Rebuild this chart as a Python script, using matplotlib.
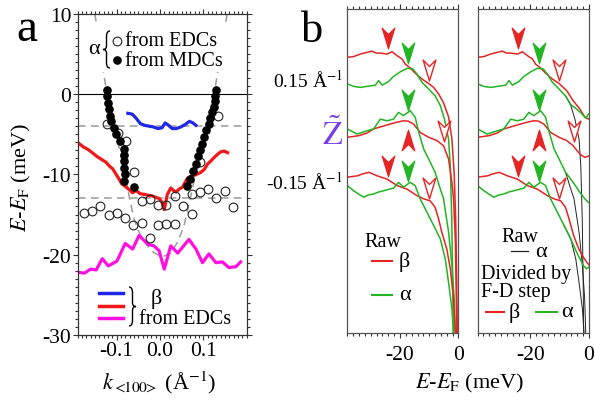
import matplotlib
matplotlib.use('Agg')
import matplotlib.pyplot as plt
from matplotlib.path import Path
from matplotlib.patches import PathPatch, Rectangle
from matplotlib.lines import Line2D
from matplotlib.ticker import MultipleLocator, FixedLocator, FuncFormatter

plt.rcParams['font.family'] = ['Liberation Serif', 'DejaVu Serif']
plt.rcParams['mathtext.fontset'] = 'stix'
plt.rcParams['axes.unicode_minus'] = False

# ======================= DATA : panel a =======================
# alpha band from MDCs (filled circles)
mdc_k_left = [-0.123, -0.121, -0.119, -0.117, -0.115, -0.113, -0.107, -0.101, -0.092,
              -0.083, -0.082, -0.082, -0.082, -0.080, -0.082, -0.059]
mdc_E_left = [0.5, -0.3, -1.1, -1.9, -2.7, -3.4, -4.2, -5.0, -5.9,
              -6.8, -7.6, -8.4, -9.2, -10.0, -10.8, -11.6]
mdc_k_right = [0.130, 0.128, 0.126, 0.124, 0.121, 0.116, 0.112, 0.107, 0.101, 0.096,
               0.092, 0.088, 0.082, 0.076, 0.070, 0.063]
mdc_E_right = [0.5, -0.2, -0.9, -1.6, -2.3, -3.0, -3.7, -4.5, -5.3, -6.2,
               -7.0, -7.7, -8.7, -9.6, -10.6, -11.5]

# alpha band from EDCs (open circles)
edc_k = [-0.121, -0.097, -0.079, -0.060, 0.133, 0.093,
         -0.176, -0.157, -0.138, -0.118, -0.099, -0.080, -0.061, -0.042, -0.022,
         -0.041, -0.022, -0.004, 0.015, -0.004, 0.015, 0.034,
         0.035, 0.054, 0.073, 0.073, 0.092, 0.111, 0.130, 0.149, 0.168]
edc_E = [-3.7, -4.8, -5.9, -9.7, -2.7, -8.5,
         -14.8, -14.6, -14.0, -15.0, -14.8, -15.4, -16.3, -16.0, -17.9,
         -13.3, -13.1, -13.8, -13.8, -16.3, -16.2, -16.2,
         -12.7, -13.9, -14.9, -12.5, -12.2, -11.8, -12.9, -12.1, -14.1]

# beta bands from EDCs
blue_k = [-0.074, -0.064, -0.055, -0.045, -0.035, -0.025, -0.015, -0.005, 0.005,
          0.012, 0.020, 0.028, 0.038, 0.048, 0.058, 0.068, 0.076, 0.083]
blue_E = [-2.4, -2.5, -3.0, -3.7, -3.9, -4.0, -4.1, -4.3, -4.2,
          -3.6, -3.9, -4.3, -4.3, -4.1, -3.8, -3.4, -3.6, -3.9]

red_k = [-0.188, -0.176, -0.166, -0.156, -0.147, -0.136, -0.124, -0.116, -0.109, -0.101,
         -0.094, -0.088, -0.082, -0.071, -0.063, -0.055, -0.046, -0.036, -0.027, -0.017,
         -0.008, -0.002, 0.004, 0.010, 0.017, 0.025, 0.031, 0.037, 0.045, 0.052,
         0.063, 0.075, 0.085, 0.094, 0.102, 0.110, 0.118, 0.125, 0.133, 0.140, 0.148, 0.156]
red_E = [-6.1, -6.6, -6.9, -7.3, -7.7, -8.1, -8.5, -9.0, -9.3, -10.0,
         -10.6, -11.2, -11.4, -11.9, -12.3, -12.0, -12.4, -12.5, -12.6, -12.7,
         -12.9, -13.0, -13.4, -14.4, -12.5, -11.7, -12.0, -12.2, -11.8, -11.6,
         -10.5, -10.2, -10.0, -9.75, -9.4, -8.7, -8.3, -7.9, -7.5, -7.2, -7.1, -7.3]

magenta_k = [-0.188, -0.174, -0.160, -0.147, -0.133, -0.119, -0.099, -0.080, -0.063, -0.048,
             -0.028, -0.014, -0.002, 0.010, 0.025, 0.041, 0.067, 0.083, 0.098, 0.113,
             0.129, 0.144, 0.159, 0.175, 0.186]
magenta_E = [-22.2, -22.3, -21.8, -21.9, -20.5, -21.4, -20.8, -18.6, -19.3, -17.6,
             -18.7, -18.9, -19.5, -21.8, -18.9, -19.8, -18.1, -19.3, -21.0, -19.9,
             -21.0, -20.9, -21.6, -21.5, -20.9]

# guide-to-the-eye (gray dashed)
guide_k = [-0.150, -0.128, -0.112, -0.095, -0.080, -0.070, -0.060, -0.045, -0.030, -0.015,
           0.005, 0.025, 0.040, 0.055, 0.068, 0.080, 0.095, 0.112, 0.128, 0.140, 0.155]
guide_E = [10.0, 2.0, -3.0, -6.5, -10.0, -13.0, -15.5, -17.6, -18.8, -19.7,
           -20.3, -19.8, -18.5, -16.5, -13.5, -10.5, -7.0, -3.0, 1.0, 5.0, 10.0]
guide_levels = [-4.0, -13.0]

xa_ticks = [-0.1, 0.0, 0.1]
ya_ticks = [-30, -20, -10, 0, 10]

# ======================= DATA : panel b =======================
# Raw EDCs (meV, arbitrary intensity incl. offset), k = +0.15, 0 (Z~), -0.15
raw_top_red_E = [-38.0, -35.9, -33.5, -31.3, -29.6, -28.1, -26.8, -24.4, -22.7, -21.0, -19.3, -18.2,
                 -16.5, -14.8, -12.5, -10.2, -8.5, -6.8, -5.1, -3.4, -2.25, -1.47, -0.96, -0.61, -0.44]
raw_top_red_I = [85.1, 85.3, 86.1, 86.6, 87.0, 86.4, 86.4, 86.1, 86.8, 85.6, 84.6, 83.0,
                 81.8, 80.2, 78.4, 77.0, 75.8, 73.8, 71.0, 66.7, 59.9, 49.1, 35.2, 16.7, 0.0]
raw_top_green_E = [-38.0, -35.8, -33.5, -31.3, -28.4, -27.3, -26.1, -23.9, -22.2, -19.9, -17.6, -15.6,
                   -14.2, -12.5, -10.2, -8.0, -6.2, -4.8, -3.4, -2.8, -2.3, -2.0, -1.8]
raw_top_green_I = [76.9, 76.1, 75.8, 76.1, 76.5, 77.9, 76.5, 77.6, 79.2, 80.6, 81.7, 81.5,
                   79.9, 77.4, 75.3, 73.2, 70.2, 66.0, 59.9, 51.6, 35.2, 16.7, 0.0]
raw_mid_red_E = [-38.0, -34.1, -31.3, -29.0, -26.7, -23.3, -20.9, -18.8, -17.2, -15.4, -13.1, -10.2,
                 -7.4, -5.1, -3.4, -2.25, -1.7, -1.1, -0.8, -0.6]
raw_mid_red_I = [60.4, 60.9, 61.7, 63.0, 63.6, 64.5, 65.1, 65.5, 65.4, 64.5, 61.9, 60.4,
                 59.4, 57.8, 53.7, 46.5, 41.4, 29.0, 13.6, 0.0]
raw_mid_green_E = [-38.0, -34.7, -31.3, -29.0, -26.7, -24.4, -22.2, -20.5, -18.8, -16.5, -14.8,
                   -13.7, -11.9, -10.2, -8.0, -6.2, -5.1, -3.4, -2.25, -1.47, -1.1]
raw_mid_green_I = [63.0, 61.4, 62.4, 63.0, 66.0, 65.5, 66.0, 68.1, 67.1, 68.6, 66.6,
                   62.4, 56.8, 53.7, 49.6, 44.4, 41.4, 31.2, 20.8, 10.5, 0.0]
raw_bot_red_E = [-38.0, -34.6, -32.8, -30.6, -27.8, -24.4, -21.0, -17.6, -14.2, -11.9, -9.7, -8.0,
                 -6.8, -5.7, -4.0, -2.8, -1.7, -1.1]
raw_bot_red_I = [48.1, 48.5, 49.1, 49.6, 48.5, 47.5, 45.5, 44.4, 42.4, 41.4, 40.8, 38.8,
                 35.2, 31.1, 25.9, 19.8, 10.5, 0.0]
raw_bot_green_E = [-38.0, -35.8, -34.2, -32.4, -30.8, -29.0, -27.4, -25.6, -24.0, -22.2, -20.5,
                   -18.8, -16.5, -14.8, -13.1, -10.8, -8.5, -6.2, -4.5, -3.4, -2.25, -1.7]
raw_bot_green_I = [45.5, 43.9, 42.9, 41.9, 42.6, 42.9, 43.5, 43.9, 44.3, 44.7, 46.5,
                   45.0, 46.5, 45.5, 41.4, 37.3, 33.2, 29.0, 22.8, 15.6, 7.4, 0.0]

# EDCs divided by the Fermi-Dirac step
div_top_red_E = [-38.0, -35.9, -33.5, -31.3, -29.6, -28.1, -26.8, -24.4, -22.7, -21.0, -19.3, -18.2,
                 -16.5, -14.8, -12.5, -10.2, -7.6, -5.4, -3.1, -1.4, 0.0]
div_top_red_I = [85.1, 85.3, 86.1, 86.6, 87.0, 86.4, 86.4, 86.1, 86.8, 85.6, 84.6, 83.0,
                 81.8, 80.2, 78.4, 77.0, 74.8, 71.7, 69.1, 66.6, 66.0]
div_top_green_E = [-38.0, -35.8, -33.5, -31.3, -28.4, -27.3, -26.1, -23.9, -22.2, -19.9, -17.6, -15.6,
                   -14.2, -12.5, -10.2, -8.0, -6.2, -4.2, -2.8, -1.9, -1.0, -0.2]
div_top_green_I = [76.9, 76.1, 75.8, 76.1, 76.5, 77.9, 76.5, 77.6, 79.2, 80.6, 81.7, 81.5,
                   79.9, 77.4, 75.3, 73.2, 70.5, 69.1, 68.0, 67.1, 66.3, 67.6]
div_mid_red_E = [-38.0, -34.1, -31.3, -29.0, -26.7, -23.3, -20.9, -18.8, -17.2, -15.4, -13.1, -10.2,
                 -7.6, -5.4, -3.1, -1.4, 0.0]
div_mid_red_I = [60.4, 60.9, 61.7, 63.0, 63.6, 64.5, 65.1, 65.5, 65.4, 64.5, 61.9, 60.4,
                 59.4, 57.8, 55.2, 54.2, 54.7]
div_mid_green_E = [-38.0, -34.7, -31.3, -29.0, -26.7, -24.4, -22.2, -20.5, -18.8, -16.5, -14.8,
                   -13.7, -11.9, -10.2, -8.0, -5.4, -3.1, -1.5, -0.2]
div_mid_green_I = [63.0, 61.4, 62.4, 63.0, 66.0, 65.5, 66.0, 68.1, 67.1, 68.6, 66.6,
                   62.4, 56.8, 53.7, 49.6, 46.5, 43.4, 41.5, 40.3]
div_bot_red_E = [-38.0, -34.6, -32.8, -30.6, -27.8, -24.4, -21.0, -17.6, -14.2, -11.9, -9.7, -8.0,
                 -6.8, -5.2, -3.5, -2.0, -0.8, 0.0]
div_bot_red_I = [48.1, 48.5, 49.1, 49.6, 48.5, 47.5, 45.5, 44.4, 42.4, 41.4, 40.8, 38.8,
                 35.2, 30.0, 26.0, 23.5, 21.9, 21.0]
div_bot_green_E = [-38.0, -35.8, -34.2, -32.4, -30.8, -29.0, -27.4, -25.6, -24.0, -22.2, -20.5,
                   -18.8, -16.5, -14.8, -13.1, -10.8, -8.5, -6.2, -4.2, -1.9, -0.8, 0.0]
div_bot_green_I = [45.5, 43.9, 42.9, 41.9, 42.6, 42.9, 43.5, 43.9, 44.3, 44.7, 46.5,
                   45.0, 46.5, 45.5, 41.4, 37.3, 33.2, 29.0, 24.9, 20.8, 19.8, 20.4]

# arrow markers (peak positions)
arrow_red_E = [-24.2, -17.1, -24.2]
arrow_red_I = [90.9, 59.7, 51.4]
arrow_red_up = [False, True, False]
arrow_green_E = [-17.1, -17.1, -17.1]
arrow_green_I = [86.3, 71.8, 50.0]
arrow_open_E = [-10.2, -5.1, -10.2]
arrow_open_I = [81.2, 62.5, 44.9]

xb_ticks = [-20, 0]

# ======================= FIGURE =======================
W, H = 595, 402
fig = plt.figure(figsize=(W / 100, H / 100), dpi=100)


def px(x, y):
    return x / W, 1 - y / H


SPINE = '#333333'
GRAY = '#9a9a9a'
BLUE = '#1e28e6'
RED_A = '#f01818'
MAG = '#ff10e0'
RED_B = '#e52424'
GREEN_B = '#22b422'

# ---------------- panel a ----------------
axa = fig.add_axes([77.5 / W, 1 - 336 / H, 169.2 / W, 321.3 / H])
axa.set_xlim(-0.19, 0.2)
axa.set_ylim(-30, 10)
axa.axhline(0, color='black', lw=0.8, zorder=1)
for lev in guide_levels:
    axa.axhline(lev, color=GRAY, lw=1.1, ls=(0, (5, 3.5)), zorder=1)
axa.plot(guide_k, guide_E, color=GRAY, lw=1.1, ls=(0, (5, 3.5)), zorder=1)
axa.plot(blue_k, blue_E, color=BLUE, lw=2.3, zorder=2, solid_joinstyle='round')
axa.plot(red_k, red_E, color=RED_A, lw=2.3, zorder=2, solid_joinstyle='round')
axa.plot(magenta_k, magenta_E, color=MAG, lw=2.3, zorder=2, solid_joinstyle='round')
axa.plot(edc_k, edc_E, 'o', ms=6.3, mfc='none', mec='#222222', mew=0.8, zorder=3)
axa.plot(mdc_k_left, mdc_E_left, 'o', ms=5.2, color='black', zorder=3)
axa.plot(mdc_k_right, mdc_E_right, 'o', ms=5.2, color='black', zorder=3)
# white box behind legend
axa.add_patch(Rectangle(px(86, 73), 142 / W, 50 / H, transform=fig.transFigure,
                        facecolor='white', edgecolor='none', zorder=2.5))

axa.xaxis.set_major_locator(FixedLocator(xa_ticks))
axa.xaxis.set_minor_locator(MultipleLocator(0.01))
axa.xaxis.set_major_formatter(FuncFormatter(lambda v, p: '%.1f' % v if abs(v) > 1e-9 else '0.0'))
axa.yaxis.set_major_locator(FixedLocator(ya_ticks))
axa.yaxis.set_minor_locator(MultipleLocator(1))
axa.yaxis.set_major_formatter(FuncFormatter(lambda v, p: '%d' % round(v)))
axa.tick_params(which='both', direction='out', top=True, right=True, width=0.8, color=SPINE)
axa.tick_params(which='major', length=3.5, labelsize=15.5, pad=1)
axa.tick_params(which='minor', length=2)
for s in axa.spines.values():
    s.set_color(SPINE)
    s.set_linewidth(0.9)

# ---------------- panel b ----------------
axb1 = fig.add_axes([347.3 / W, 1 - 334 / H, 111.2 / W, 324 / H])
axb2 = fig.add_axes([477.5 / W, 1 - 334 / H, 111.5 / W, 324 / H])
for ax in (axb1, axb2):
    ax.set_xlim(-38, 0)
    ax.set_ylim(0, 100)
    ax.set_yticks([])
    ax.xaxis.set_major_locator(FixedLocator(xb_ticks))
    ax.xaxis.set_minor_locator(MultipleLocator(2))
    ax.xaxis.set_major_formatter(FuncFormatter(lambda v, p: '%d' % round(v)))
    ax.tick_params(axis='x', which='both', direction='out', top=True, width=0.8, color=SPINE)
    ax.tick_params(axis='x', which='major', length=3.5, labelsize=15.5, pad=5)
    ax.tick_params(axis='x', which='minor', length=2)
    for s in ax.spines.values():
        s.set_color('#555555')
        s.set_linewidth(0.9)

LWB = 1.1
raw_sets = [(raw_top_red_E, raw_top_red_I, RED_B), (raw_top_green_E, raw_top_green_I, GREEN_B),
            (raw_mid_red_E, raw_mid_red_I, RED_B), (raw_mid_green_E, raw_mid_green_I, GREEN_B),
            (raw_bot_red_E, raw_bot_red_I, RED_B), (raw_bot_green_E, raw_bot_green_I, GREEN_B)]
for E, I, c in raw_sets:
    axb1.plot(E, I, color=c, lw=LWB, zorder=2)

div_sets = [(div_top_red_E, div_top_red_I, RED_B), (div_top_green_E, div_top_green_I, GREEN_B),
            (div_mid_red_E, div_mid_red_I, RED_B), (div_mid_green_E, div_mid_green_I, GREEN_B),
            (div_bot_red_E, div_bot_red_I, RED_B), (div_bot_green_E, div_bot_green_I, GREEN_B)]
for E, I, c in div_sets:
    axb2.plot(E, I, color=c, lw=LWB, zorder=2)
# raw alpha EDCs (thin black) in the right panel
for E, I in [(raw_top_green_E, raw_top_green_I), (raw_mid_green_E, raw_mid_green_I),
             (raw_bot_green_E, raw_bot_green_I)]:
    sel = [(e, i) for e, i in zip(E, I) if e >= -9.0]
    axb2.plot([p[0] for p in sel], [p[1] for p in sel], color='#222222', lw=0.7, zorder=1)

arrow_dn = Path([(0, -0.9), (0.55, 0.9), (0, 0.35), (-0.55, 0.9), (0, -0.9)],
                [Path.MOVETO, Path.LINETO, Path.LINETO, Path.LINETO, Path.CLOSEPOLY])
arrow_up = Path([(0, 0.9), (0.55, -0.9), (0, -0.35), (-0.55, -0.9), (0, 0.9)],
                [Path.MOVETO, Path.LINETO, Path.LINETO, Path.LINETO, Path.CLOSEPOLY])
for ax in (axb1, axb2):
    for e, i, up in zip(arrow_red_E, arrow_red_I, arrow_red_up):
        ax.plot([e], [i], ls='none', marker=arrow_up if up else arrow_dn, ms=15,
                color=RED_B, mew=0.8, zorder=5)
    ax.plot(arrow_green_E, arrow_green_I, ls='none', marker=arrow_dn, ms=15,
            color=GREEN_B, mew=0.8, zorder=5)
    ax.plot(arrow_open_E, arrow_open_I, ls='none', marker=arrow_dn, ms=15,
            mfc='white', mec=RED_B, mew=1.0, zorder=5)

# ---------------- texts & legends ----------------
fig.text(*px(16, 41), 'a', fontsize=34, ha='left', va='baseline')
fig.text(*px(301, 42), 'b', fontsize=32, ha='left', va='baseline')
fig.text(*px(21, 178), r'$E$-$E_{\mathrm{F}}$ (meV)', rotation=90, ha='center', va='center', fontsize=16)
fig.text(*px(159, 383), r'$k_{<\!\!100\!\!>}$ (Å$^{-1}$)', ha='center', va='center', fontsize=16)
fig.text(*px(469, 383), r'$E$-$E_{\mathrm{F}}$ (meV)', ha='center', va='center', fontsize=16)

fig.text(*px(343, 88), r'0.15 Å$^{-1}$', ha='right', va='baseline', fontsize=14)
fig.text(*px(343, 190), r'-0.15 Å$^{-1}$', ha='right', va='baseline', fontsize=14)
fig.text(*px(343, 145), r'$\tilde{\mathrm{Z}}$', ha='right', va='baseline', fontsize=23, color='#7a3ce6')


def brace(x_tip, x_end, y_top, y_bot, lw=1.0, color='black'):
    ym = (y_top + y_bot) / 2
    xc = (x_tip + x_end) / 2
    h = y_bot - y_top
    pts = [(x_end, y_top), (xc, y_top), (xc, y_top + 0.15 * h), (xc, ym - 0.1 * h),
           (xc, ym), (x_tip, ym), (xc, ym), (xc, ym + 0.1 * h), (xc, y_bot - 0.15 * h),
           (xc, y_bot), (x_end, y_bot)]
    codes = [Path.MOVETO, Path.CURVE3, Path.CURVE3, Path.LINETO, Path.CURVE3, Path.CURVE3,
             Path.CURVE3, Path.CURVE3, Path.LINETO, Path.CURVE3, Path.CURVE3]
    path = Path([px(x, y) for x, y in pts], codes)
    fig.add_artist(PathPatch(path, transform=fig.transFigure, fill=False, lw=lw, color=color))


# panel a, upper legend
fig.text(*px(94, 50), 'α', ha='center', va='center', fontsize=16)
brace(103, 110, 32, 69)
fig.add_artist(Line2D([px(117, 42)[0]], [px(117, 42)[1]], marker='o', ms=6.3, mfc='none',
                      mec='#222222', mew=0.8, transform=fig.transFigure))
fig.add_artist(Line2D([px(117, 61)[0]], [px(117, 61)[1]], marker='o', ms=5.2, color='black',
                      transform=fig.transFigure))
fig.text(*px(125, 42), 'from EDCs', ha='left', va='center', fontsize=14.5)
fig.text(*px(125, 61), 'from MDCs', ha='left', va='center', fontsize=14.5)

# panel a, lower legend
for yy, c in [(294.3, BLUE), (306.7, RED_A), (319, MAG)]:
    fig.add_artist(Line2D([99.3 / W, 123.3 / W], [1 - yy / H] * 2, color=c, lw=2.5,
                          transform=fig.transFigure))
brace(136, 129, 288, 327)
fig.text(*px(156, 299), 'β', ha='center', va='center', fontsize=16)
fig.text(*px(139, 320), 'from EDCs', ha='left', va='center', fontsize=14.5)

# panel b, left legend
fig.text(*px(383, 247), 'Raw', ha='center', va='baseline', fontsize=14.5)
fig.add_artist(Line2D([371.7 / W, 391.7 / W], [1 - 261.7 / H] * 2, color=RED_B, lw=1.5,
                      transform=fig.transFigure))
fig.text(*px(404, 262), 'β', ha='center', va='center', fontsize=16)
fig.add_artist(Line2D([371.7 / W, 391.7 / W], [1 - 296 / H] * 2, color=GREEN_B, lw=1.5,
                      transform=fig.transFigure))
fig.text(*px(405, 296), 'α', ha='center', va='center', fontsize=16)

# panel b, right legend
fig.text(*px(520, 242), 'Raw', ha='center', va='baseline', fontsize=14.5)
fig.add_artist(Line2D([510.7 / W, 528.3 / W], [1 - 252 / H] * 2, color='#222222', lw=0.9,
                      transform=fig.transFigure))
fig.text(*px(541, 253), 'α', ha='center', va='center', fontsize=16)
fig.text(*px(481, 297), 'Divided by\nF-D step', ha='left', va='baseline', fontsize=14.5,
         linespacing=0.92)
fig.add_artist(Line2D([485.7 / W, 504 / W], [1 - 313 / H] * 2, color=RED_B, lw=1.5,
                      transform=fig.transFigure))
fig.text(*px(514, 313), 'β', ha='center', va='center', fontsize=16)
fig.add_artist(Line2D([536 / W, 556.7 / W], [1 - 313 / H] * 2, color=GREEN_B, lw=1.5,
                      transform=fig.transFigure))
fig.text(*px(567, 313), 'α', ha='center', va='center', fontsize=16)

fig.savefig('out.png', dpi=100)
